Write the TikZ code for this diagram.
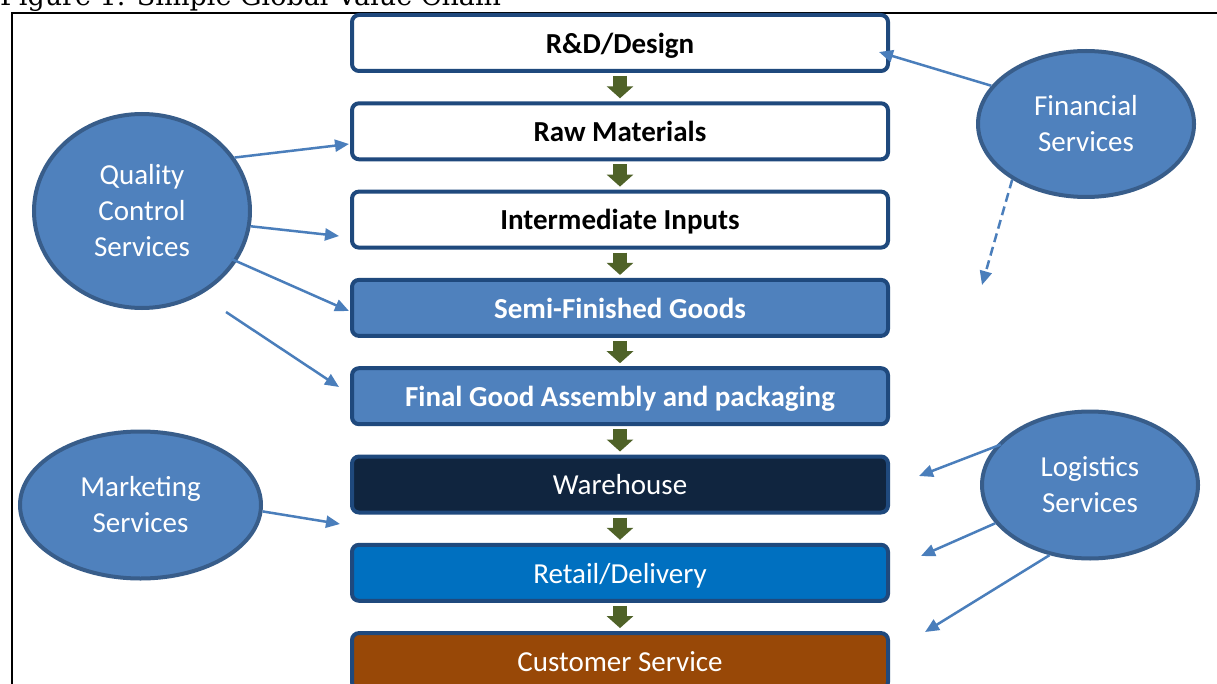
\documentclass[tikz,border=0pt]{standalone}
\usepackage{fontspec}
\setmainfont{Carlito}
\newfontfamily\titlefont{DejaVu Serif}
\usetikzlibrary{arrows.meta,shapes.geometric}
\definecolor{boxborder}{HTML}{1F497D}
\definecolor{accent}{HTML}{4F81BD}
\definecolor{ellborder}{HTML}{385D8A}
\definecolor{linkblue}{HTML}{4A7EBB}
\definecolor{flowgreen}{HTML}{4F6228}
\definecolor{navyfill}{HTML}{10253F}
\definecolor{retailblue}{HTML}{0070C0}
\definecolor{rustfill}{HTML}{984807}
\begin{document}
\begin{tikzpicture}[x=1pt,y=-1pt,
  stage/.style={draw=boxborder, line width=4pt, rounded corners=7pt,
    minimum width=536pt, minimum height=56pt, inner sep=0pt,
    text height=23pt, text depth=2.5pt,
    font=\fontsize{29}{33}\selectfont},
  lightstage/.style={stage, fill=white, text=black, font=\fontsize{29}{33}\selectfont\bfseries},
  midstage/.style={stage, fill=accent, text=white, font=\fontsize{29}{33}\selectfont\bfseries},
  service/.style={ellipse, draw=ellborder, fill=accent, line width=4pt, inner sep=0pt,
    text=white, align=center, font=\fontsize{29}{36}\selectfont},
  flow/.style={draw=flowgreen, line width=14pt, shorten <=3pt, shorten >=3pt,
    -{Triangle[length=12pt,width=26pt]}, color=flowgreen},
  link/.style={draw=linkblue, line width=2.5pt, -{Triangle[length=14pt,width=12pt]}, color=linkblue},
]
\useasboundingbox (0,0) rectangle (1217,684);
\fill[white] (0,0) rectangle (1217,684);

% title (partly cut off at the top, as in the reference)
\node[anchor=base west, inner sep=0pt, font=\titlefont\fontsize{27}{27}\selectfont] (title) at (0,6) {Figure 1. Simple Global Value Chain};

% frame
\draw[black, line width=1.5pt] (1220,13) -- (12,13) -- (12,690);

% stages
\node[lightstage] (rd)   at (620,43.0)  {R\&D/Design};
\node[lightstage] (raw)  at (620,131.3) {Raw Materials};
\node[lightstage] (int)  at (620,219.6) {Intermediate Inputs};
\node[midstage]   (semi) at (620,307.9) {Semi-Finished Goods};
\node[midstage]   (fin)  at (620,396.2) {Final Good Assembly and packaging};
\node[stage, fill=navyfill, text=white]   (ware) at (620,484.5) {Warehouse};
\node[stage, fill=retailblue, text=white] (ret)  at (620,572.8) {Retail/Delivery};
\node[stage, fill=rustfill, text=white]   (cust) at (620,661.1) {Customer Service};

% flow arrows
\draw[flow] (rd) -- (raw);
\draw[flow] (raw) -- (int);
\draw[flow] (int) -- (semi);
\draw[flow] (semi) -- (fin);
\draw[flow] (fin) -- (ware);
\draw[flow] (ware) -- (ret);
\draw[flow] (ret) -- (cust);

% services
\node[service, minimum width=216pt, minimum height=194pt] (qc)  at (142,211)   {Quality\\Control\\Services};
\node[service, minimum width=216pt, minimum height=146pt] (fs)  at (1086,124)  {Financial\\Services};
\node[service, minimum width=241pt, minimum height=147pt] (mk)  at (140.5,505) {Marketing\\Services};
\node[service, minimum width=216pt, minimum height=147pt] (lg)  at (1090,485)  {Logistics\\Services};

% connector end points
\coordinate (tRd)    at (879,52);
\coordinate (tRaw)   at (349,144);
\coordinate (tInt)   at (339,236);
\coordinate (tSemi)  at (349,311);
\coordinate (sFree)  at (226,312);
\coordinate (tFinal) at (339,387);
\coordinate (tWareM) at (340,524);
\coordinate (tDash)  at (982,285);
\coordinate (tWareL) at (919,476);
\coordinate (tRet)   at (921,556);
\coordinate (tCust)  at (925,632);

% connectors
\draw[link] (fs.158.5) -- (tRd);
\draw[link, dash pattern=on 9pt off 5pt] (fs.217) -- (tDash);
\draw[link] (qc.30) -- (tRaw);
\draw[link] (qc.-8) -- (tInt);
\draw[link, shorten <=-6pt] (qc.-28) -- (tSemi);
\draw[link] (sFree) -- (tFinal);
\draw[link] (mk.-3) -- (tWareM);
\draw[link, shorten <=-6pt] (lg.158) -- (tWareL);
\draw[link] (lg.202) -- (tRet);
\draw[link] (lg.240) -- (tCust);
\end{tikzpicture}
\end{document}
